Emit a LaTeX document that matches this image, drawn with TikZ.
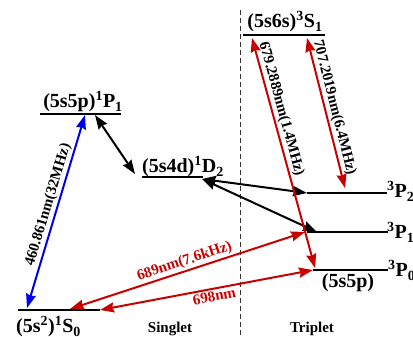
\documentclass[tikz,border=0pt]{standalone}
\usepackage{fontspec}
\setmainfont{Liberation Serif}
\usetikzlibrary{arrows.meta}
\definecolor{lred}{RGB}{200,0,0}
\definecolor{lblue}{RGB}{0,0,230}
\tikzset{
  level/.style={line width=2.2pt,black},
  trans/.style={line width=2pt,{Stealth[length=14pt,width=10pt,inset=1.5pt]}-{Stealth[length=14pt,width=10pt,inset=1.5pt]}},
  big/.style={font=\fontsize{20}{24}\selectfont\bfseries,inner sep=0pt},
  small/.style={font=\fontsize{15}{18}\selectfont\bfseries,inner sep=1.5pt},
}
\begin{document}
\begin{tikzpicture}[x=1pt,y=1pt]
\useasboundingbox (0,0) rectangle (413,337);
% levels
\coordinate (P1a) at (40,223);  \coordinate (P1b) at (121,223);
\coordinate (D2a) at (142,160); \coordinate (D2b) at (203,160);
\coordinate (S0a) at (18,27);   \coordinate (S0b) at (100,27);
\coordinate (S1a) at (243,302); \coordinate (S1b) at (325,302);
\coordinate (TP2a) at (307,144); \coordinate (TP2b) at (387,144);
\coordinate (TP1a) at (307,105); \coordinate (TP1b) at (388,105);
\coordinate (TP0a) at (313,67);  \coordinate (TP0b) at (388,67);
\draw[level] (P1a) -- (P1b);
\draw[level] (D2a) -- (D2b);
\draw[level] (S0a) -- (S0b);
\draw[level] (S1a) -- (S1b);
\draw[level] (TP2a) -- (TP2b);
\draw[level] (TP1a) -- (TP1b);
\draw[level] (TP0a) -- (TP0b);
% divider
\coordinate (dtop) at (240,327); \coordinate (dbot) at (240,0);
\draw[line width=0.7pt,dash pattern=on 5pt off 3pt,black!80] (dtop) -- (dbot);
% level labels
\node[big,anchor=base] (lP1) at (83,229) {(5s5p)\textsuperscript{1}P\textsubscript{1}};
\node[big,anchor=base] (lD2) at (183,164) {(5s4d)\textsuperscript{1}D\textsubscript{2}};
\node[big,anchor=base] (lS1) at (285,309) {(5s6s)\textsuperscript{3}S\textsubscript{1}};
\node[big,anchor=base west] (lS0) at (16,4) {(5s\textsuperscript{2})\textsuperscript{1}S\textsubscript{0}};
\node[big,anchor=base west] (lTP2) at (387,139) {\textsuperscript{3}P\textsubscript{2}};
\node[big,anchor=base west] (lTP1) at (387,98) {\textsuperscript{3}P\textsubscript{1}};
\node[big,anchor=base west] (lTP0) at (388,60) {\textsuperscript{3}P\textsubscript{0}};
\node[big,anchor=base] (l5s5p) at (348,49) {(5s5p)};
\node[small,anchor=base] (sing) at (170,4) {Singlet};
\node[small,anchor=base] (trip) at (312,4) {Triplet};
% transition endpoints
\coordinate (bS0) at (27,29);   \coordinate (bP1) at (85,222);
\coordinate (kP1) at (95,222);  \coordinate (kD2a) at (135,163);
\coordinate (kD2b) at (202,158); \coordinate (kP2) at (307,144); \coordinate (kP1t) at (317,105);
\coordinate (rS0a) at (70,28);  \coordinate (rP1) at (305,105);
\coordinate (rS0b) at (100,27); \coordinate (rP0) at (313,67);
\coordinate (rS1a) at (252,299); \coordinate (rP0b) at (315,69);
\coordinate (rS1b) at (307,299); \coordinate (rP2) at (345,149);
% transitions
\draw[trans,lblue] (bS0) -- node[small,black,sloped,above,pos=0.52] (t460) {460.861nm(32MHz)} (bP1);
\draw[trans] (kP1) -- (kD2a);
\draw[trans] (kD2b) -- (kP2);
\draw[trans] (kD2b) -- (kP1t);
\draw[trans,lred] (rS0a) -- node[small,lred,sloped,above,pos=0.5] (t689) {689nm(7.6kHz)} (rP1);
\draw[trans,lred] (rS0b) -- node[small,lred,sloped,below,pos=0.53] (t698) {698nm} (rP0);
\draw[trans,lred] (rS1a) -- node[small,black,sloped,above,pos=0.32] (t679) {679.2889nm(1.4MHz)} (rP0b);
\draw[trans,lred] (rS1b) -- node[small,black,sloped,above,pos=0.48] (t707) {707.2019nm(6.4MHz)} (rP2);
\end{tikzpicture}
\end{document}
